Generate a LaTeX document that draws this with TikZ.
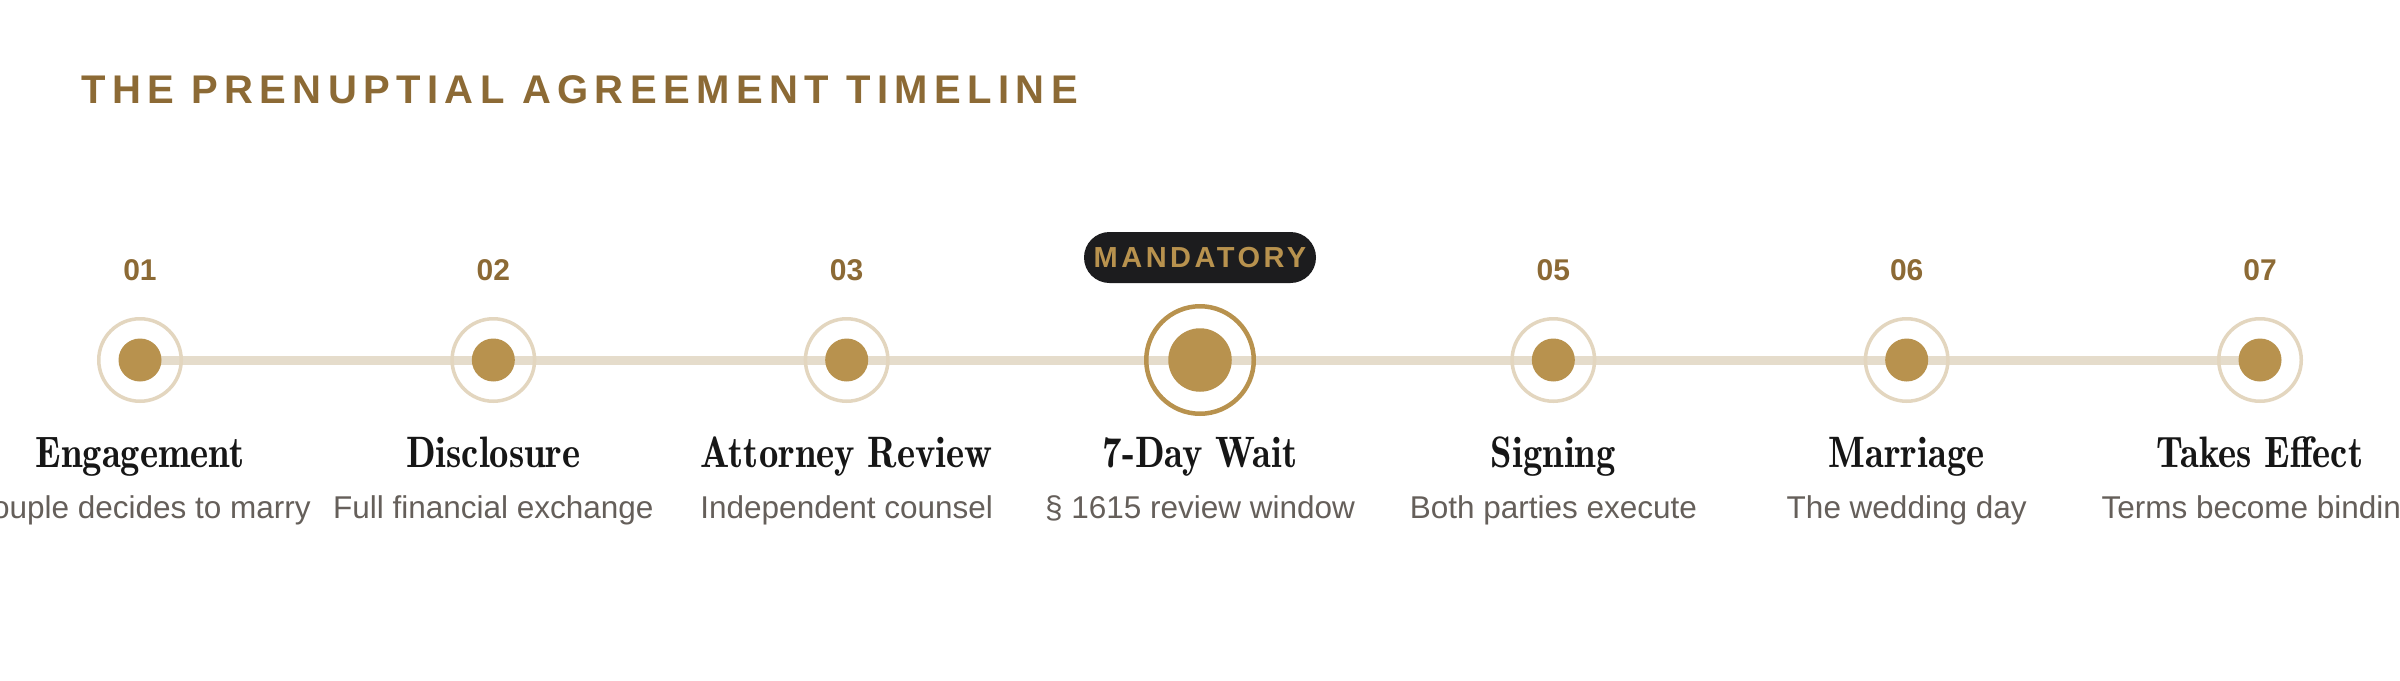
\documentclass[tikz,border=0pt]{standalone}
\usepackage{fontspec}
\newfontfamily\sansfont{Liberation Sans}
\newfontfamily\titlefont{Liberation Sans}[LetterSpace=16]
\newfontfamily\badgefont{Liberation Sans}[LetterSpace=12]
\definecolor{gold}{HTML}{B8924E}
\definecolor{golddark}{HTML}{8C6A35}
\definecolor{ringc}{HTML}{E3D6BF}
\definecolor{linec}{HTML}{E5DCCB}
\definecolor{ink}{HTML}{161616}
\definecolor{subc}{HTML}{655F5A}
\definecolor{badgec}{HTML}{1C1C1E}
\begin{document}
\begin{tikzpicture}[x=1pt,y=-1pt,
  ringn/.style={circle,draw=ringc,line width=3.5pt,minimum size=82.5pt,inner sep=0pt},
  dotn/.style={circle,fill=gold,minimum size=43pt,inner sep=0pt},
  bigring/.style={circle,draw=gold,line width=4.5pt,minimum size=107.5pt,inner sep=0pt},
  bigdot/.style={circle,fill=gold,minimum size=63.5pt,inner sep=0pt},
  numlab/.style={font=\sansfont\bfseries\fontsize{30}{30}\selectfont,text=golddark,inner sep=0pt,anchor=base},
  headlab/.style={font=\rmfamily\fontseries{b}\fontsize{44}{44}\selectfont,text=ink,inner sep=0pt,anchor=base},
  sublab/.style={font=\sansfont\fontsize{31.5}{31.5}\selectfont,text=subc,inner sep=0pt,anchor=base},
  titlelab/.style={font=\titlefont\bfseries\fontsize{40}{40}\selectfont,text=golddark,inner sep=0pt,anchor=base west},
  badgebox/.style={rectangle,rounded corners=25.5pt,fill=badgec,minimum width=232pt,minimum height=51pt,inner sep=0pt,
    font=\badgefont\bfseries\fontsize{29}{29}\selectfont,text=gold},
  tline/.style={draw=linec,line width=9pt}
]
\useasboundingbox (0,0) rectangle (2400,680);
\fill[white] (0,0) rectangle (2400,680);
\begin{scope}
\clip (0,0) rectangle (2400,680);

\node[titlelab] (title) at (81,103) {THE PRENUPTIAL AGREEMENT TIMELINE};

\coordinate (c1) at (140,360);
\coordinate (c2) at (493.33,360);
\coordinate (c3) at (846.67,360);
\coordinate (c4) at (1200,360);
\coordinate (c5) at (1553.33,360);
\coordinate (c6) at (1906.67,360);
\coordinate (c7) at (2260,360);

\draw[tline] (c1) -- (c7);

\foreach \k in {1,2,3,5,6,7}{
  \node[ringn] (r\k) at (c\k) {};
  \node[dotn] (d\k) at (c\k) {};
}
\node[bigring] (r4) at (c4) {};
\node[bigdot] (d4) at (c4) {};

\node[numlab] (n1) at (140,280) {01};
\node[numlab] (n2) at (493.33,280) {02};
\node[numlab] (n3) at (846.67,280) {03};
\node[badgebox] (badge) at (1200,257.5) {MANDATORY};
\node[numlab] (n5) at (1553.33,280) {05};
\node[numlab] (n6) at (1906.67,280) {06};
\node[numlab] (n7) at (2260,280) {07};

\node[headlab] (h1) at (140,467) {\scalebox{0.88}[1]{Engagement}};
\node[headlab] (h2) at (493.33,467) {\scalebox{0.88}[1]{Disclosure}};
\node[headlab] (h3) at (846.67,467) {\scalebox{0.88}[1]{Attorney Review}};
\node[headlab] (h4) at (1200,467) {\scalebox{0.88}[1]{7-Day Wait}};
\node[headlab] (h5) at (1553.33,467) {\scalebox{0.88}[1]{Signing}};
\node[headlab] (h6) at (1906.67,467) {\scalebox{0.88}[1]{Marriage}};
\node[headlab] (h7) at (2260,467) {\scalebox{0.88}[1]{Takes Effect}};

\node[sublab] (s1) at (140,518) {Couple decides to marry};
\node[sublab] (s2) at (493.33,518) {Full financial exchange};
\node[sublab] (s3) at (846.67,518) {Independent counsel};
\node[sublab] (s4) at (1200,518) {§ 1615 review window};
\node[sublab] (s5) at (1553.33,518) {Both parties execute};
\node[sublab] (s6) at (1906.67,518) {The wedding day};
\node[sublab] (s7) at (2260,518) {Terms become binding};
\end{scope}
\end{tikzpicture}
\end{document}
